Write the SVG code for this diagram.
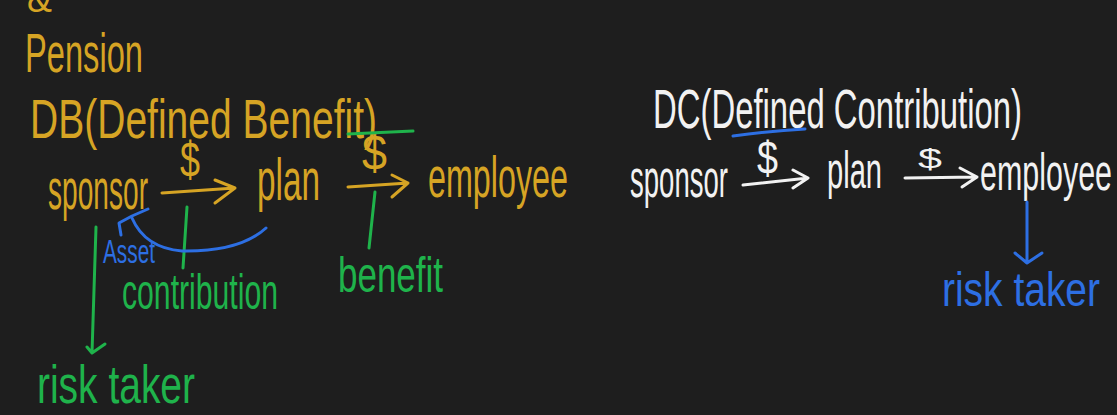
<svg xmlns="http://www.w3.org/2000/svg" width="1117" height="415" viewBox="0 0 1117 415">
<style>
text{font-family:"Liberation Sans Narrow","Liberation Sans",Arial,sans-serif;}
.gold{fill:#d6a424;}
.green{fill:#1fb34b;}
.blue{fill:#2d6fe3;}
.white{fill:#f2f2f2;}
.ln{fill:none;stroke-width:3;stroke-linecap:round;stroke-linejoin:round;}
.sg{stroke:#d6a424;}
.sgr{stroke:#1fb34b;}
.sb{stroke:#2d6fe3;}
.sw{stroke:#f2f2f2;}
</style>
<rect width="1117" height="415" fill="#1e1e1e"/>
<g id="titles">
<text class="gold" x="27" y="12" font-size="40" textLength="25" lengthAdjust="spacingAndGlyphs">&amp;</text>
<text class="gold" x="25" y="72" font-size="56" textLength="118" lengthAdjust="spacingAndGlyphs">Pension</text>
<text class="gold" x="30" y="138" font-size="56" textLength="347" lengthAdjust="spacingAndGlyphs">DB(Defined Benefit)</text>
<text class="white" x="653" y="128" font-size="56" textLength="369" lengthAdjust="spacingAndGlyphs">DC(Defined Contribution)</text>
</g>
<g id="db-sponsor"><text class="gold" x="48" y="209" font-size="58" textLength="100" lengthAdjust="spacingAndGlyphs">sponsor</text></g>
<g id="db-plan"><text class="gold" x="257" y="200" font-size="60" textLength="63" lengthAdjust="spacingAndGlyphs">plan</text></g>
<g id="db-employee"><text class="gold" x="428" y="197" font-size="58" textLength="140" lengthAdjust="spacingAndGlyphs">employee</text></g>
<g id="db-risk-taker"><text class="green" x="37" y="403" font-size="54" textLength="158" lengthAdjust="spacingAndGlyphs">risk taker</text></g>
<g id="dc-sponsor"><text class="white" x="630" y="197" font-size="54" textLength="98" lengthAdjust="spacingAndGlyphs">sponsor</text></g>
<g id="dc-plan"><text class="white" x="827" y="188" font-size="52" textLength="55" lengthAdjust="spacingAndGlyphs">plan</text></g>
<g id="dc-employee"><text class="white" x="980" y="190" font-size="52" textLength="132" lengthAdjust="spacingAndGlyphs">employee</text></g>
<g id="dc-risk-taker"><text class="blue" x="942" y="306" font-size="48" textLength="158" lengthAdjust="spacingAndGlyphs">risk taker</text></g>
<g id="connectors">
<!-- DB sponsor -> plan -->
<path class="ln sg" d="M162,193 L235,188 M215,180 L235,188 L215,203"/>
<text class="gold" x="180" y="177" font-size="50" textLength="20" lengthAdjust="spacingAndGlyphs">$</text>
<!-- DB plan -> employee -->
<path class="ln sg" d="M348,187 L408,183 M392,175 L408,183 L392,197"/>
<text class="gold" x="362" y="170" font-size="50" textLength="25" lengthAdjust="spacingAndGlyphs">$</text>
<path class="ln sgr" d="M348,134 L413,131"/>
<!-- labels -->
<path class="ln sgr" d="M187,207 L183,268"/>
<text class="green" x="122" y="309" font-size="50" textLength="156" lengthAdjust="spacingAndGlyphs">contribution</text>
<path class="ln sgr" d="M375,192 L369,248"/>
<text class="green" x="338" y="292" font-size="50" textLength="105" lengthAdjust="spacingAndGlyphs">benefit</text>
<!-- Asset curve -->
<path class="ln sb" d="M266,228 Q240,252 182,251 Q145,248 132,218"/>
<path class="ln sb" d="M148,209 L132,216 L119,223 L121,235"/>
<text class="blue" x="103" y="263" font-size="34" textLength="52" lengthAdjust="spacingAndGlyphs">Asset</text>
<!-- DB risk arrow -->
<path class="ln sgr" d="M96,227 L92,353 M87,347 L92,353 L105,344"/>
<!-- DC sponsor -> plan -->
<path class="ln sb" d="M733,136 Q770,131 805,129"/>
<path class="ln sw" d="M743,185 L808,178 M793,170 L808,178 L793,188"/>
<text class="white" x="757" y="174" font-size="46" textLength="21" lengthAdjust="spacingAndGlyphs">$</text>
<!-- DC plan -> employee -->
<path class="ln sw" d="M905,178 L977,177 M960,168 L977,177 L962,187"/>
<text class="white" x="918" y="168" font-size="27" textLength="24" lengthAdjust="spacingAndGlyphs">$</text>
<!-- DC risk arrow -->
<path class="ln sb" d="M1027,202 L1027,263 M1015,253 L1027,263 L1042,253"/>
</g>
</svg>
